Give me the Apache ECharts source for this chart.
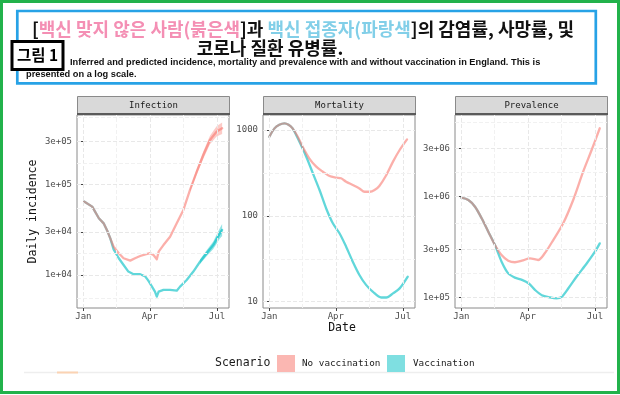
<!DOCTYPE html>
<html><head><meta charset="utf-8">
<script src="https://cdn.jsdelivr.net/npm/echarts@6/dist/echarts.min.js"></script>
<style>html,body{margin:0;padding:0;background:#fff}#c{width:620px;height:395px}</style>
</head><body><div id="c"></div>
<script>
// ---- data ----
const monthTickDays = [0, 90, 181];
const monthTickLabels = ['Jan', 'Apr', 'Jul'];
const minorDays = [45, 135.5];
const panelTitles = ['Infection', 'Mortality', 'Prevalence'];
const scenarioNames = ['No vaccination', 'Vaccination'];

const infTicks = [1e4, 3e4, 1e5, 3e5];
const infTickLabels = ['1e+04', '3e+04', '1e+05', '3e+05'];
const infMinor = [5477, 17321, 54772, 173205, 547723];
const mortTicks = [10, 100, 1000];
const mortTickLabels = ['10', '100', '1000'];
const mortMinor = [31.6, 316];
const prevTicks = [1e5, 3e5, 1e6, 3e6];
const prevTickLabels = ['1e+05', '3e+05', '1e+06', '3e+06'];
const prevMinor = [173205, 547723, 1732051, 5477226];

const infNoVacDays = [1, 12, 21, 27.5, 33, 36.5, 41, 48, 54.5, 63.5, 70, 77, 84, 90.5, 95, 99.5, 102, 108.5, 117.5, 126.5, 135.5, 144.5, 153.5, 162.5, 171.5, 180.5, 188];
const infNoVac = [64700, 56900, 42300, 37200, 30000, 25400, 20500, 17400, 15300, 14400, 15300, 16200, 16900, 17400, 16600, 14900, 18100, 21400, 26500, 37200, 52300, 87000, 138000, 212000, 310000, 384000, 418000];
const infVacDays = [1, 12, 21, 27.5, 33, 36.5, 41, 48, 54.5, 61, 68, 77, 84, 88, 93, 97, 99.5, 102, 108.5, 117.5, 126.5, 131, 140, 149, 158, 167, 176, 185, 188];
const infVac = [64700, 56900, 42300, 37200, 30000, 25400, 19200, 15300, 12900, 10900, 10200, 10200, 9600, 8650, 7430, 6540, 5760, 6540, 6830, 6830, 6700, 7430, 8800, 10900, 14000, 17400, 21400, 28900, 31400];
// uncertainty band at the end of the infection projections
const infNoVacBandDays = [144.5, 153.5, 162.5, 171.5, 180.5, 188];
const infNoVacLow = [83000, 128000, 193000, 278000, 338000, 362000];
const infNoVacHigh = [91000, 148000, 232000, 345000, 440000, 485000];
const infVacBandDays = [158, 167, 176, 185, 188];
const infVacLow = [13200, 16100, 19400, 25300, 27000];
const infVacHigh = [14800, 18700, 23500, 33000, 36500];

const mortNoVacDays = [0, 7, 13.5, 20.5, 26, 31.5, 38.5, 45, 54, 63.5, 72.5, 81.5, 90.5, 97, 104, 113, 122, 129, 136, 142.5, 149, 158.5, 167.5, 176.5, 186.5];
const mortNoVac = [836, 1045, 1153, 1197, 1153, 1045, 836, 640, 468, 374, 327, 291, 279, 274, 250, 229, 209, 191, 191, 200, 223, 299, 428, 585, 778];
const mortVacDays = [0, 7, 13.5, 20.5, 26, 31.5, 38.5, 50, 59, 68, 77, 86, 95, 104, 113, 122, 131, 140, 151.5, 158.5, 167.5, 176.5, 187.5];
const mortVac = [836, 1045, 1153, 1197, 1153, 1045, 800, 489, 313, 200, 122, 82, 62.7, 43.8, 29.3, 20.5, 15.7, 13.1, 11.2, 11.2, 12.5, 14.3, 19.6];

const prevNoVacDays = [0, 9.5, 18.5, 27.5, 36.5, 45.5, 54.5, 63.5, 72.5, 82, 93, 104, 113, 124.5, 138, 151.5, 165, 176.5, 187.5];
const prevNoVac = [977000, 927000, 795000, 610000, 449000, 331000, 263000, 231000, 223000, 231000, 244000, 235000, 274000, 371000, 545000, 927000, 1773000, 2912000, 4790000];
const prevVacDays = [0, 9.5, 18.5, 27.5, 36.5, 45.5, 54.5, 63.5, 72.5, 82, 91, 100, 109, 120, 129, 136, 145, 156, 170, 181, 187.5];
const prevVac = [977000, 927000, 795000, 610000, 449000, 331000, 226000, 173000, 157000, 149000, 138000, 118000, 105000, 100000, 97800, 101000, 123000, 160000, 218000, 284000, 344000];

// ---- layout / styles ----
const MONO = 'DejaVu Sans Mono';
const panels = [
  { left: 77, yMin: 4315, yMax: 586000, ticks: infTicks, labels: infTickLabels, minor: infMinor,
    series: [[infNoVacDays, infNoVac], [infVacDays, infVac]], smooth: false,
    bands: [[infNoVacBandDays, infNoVacLow, infNoVacHigh], [infVacBandDays, infVacLow, infVacHigh]] },
  { left: 263, yMin: 8.45, yMax: 1496, ticks: mortTicks, labels: mortTickLabels, minor: mortMinor,
    series: [[mortNoVacDays, mortNoVac], [mortVacDays, mortVac]], smooth: 0.3, bands: [] },
  { left: 455, yMin: 78300, yMax: 6490000, ticks: prevTicks, labels: prevTickLabels, minor: prevMinor,
    series: [[prevNoVacDays, prevNoVac], [prevVacDays, prevVac]], smooth: 0.3, bands: [] }
];
const GRID_TOP = 115, GRID_H = 193, GRID_W = 152;
const lineColors = ['rgba(248,118,109,0.58)', 'rgba(0,191,196,0.62)'];
const bandColors = ['rgba(248,118,109,0.38)', 'rgba(0,191,196,0.42)'];
const keyColors = ['#fbb7b2', '#7fdfe1'];

function findLabel(v, ticks, labels) {
  for (let i = 0; i < ticks.length; i++) {
    if (Math.abs(Math.log10(v) - Math.log10(ticks[i])) < 1e-4) return labels[i];
  }
  return '';
}
function findMonth(v) {
  for (let i = 0; i < monthTickDays.length; i++) if (Math.abs(v - monthTickDays[i]) < 1e-6) return monthTickLabels[i];
  return '';
}
function zip(a, b) { return a.map((d, i) => [d, b[i]]); }

const grid = [], xAxis = [], yAxis = [], series = [];
panels.forEach((p, i) => {
  grid.push({ left: p.left, top: GRID_TOP, width: GRID_W, height: GRID_H, show: true,
    borderColor: '#8a8a8a', borderWidth: 1, backgroundColor: '#fff' });
  xAxis.push({ type: 'value', gridIndex: i, min: -8.6, max: 197.3,
    axisLine: { show: false }, splitLine: { show: false },
    axisTick: { show: true, length: 3, lineStyle: { color: '#444' }, customValues: monthTickDays },
    axisLabel: { customValues: monthTickDays, formatter: findMonth, fontFamily: MONO, fontSize: 9, color: '#4d4d4d', margin: 4 } });
  yAxis.push({ type: 'log', logBase: 10, gridIndex: i, min: p.yMin, max: p.yMax,
    axisLine: { show: false }, splitLine: { show: false }, minorTick: { show: false },
    axisTick: { show: true, length: 3, lineStyle: { color: '#444' }, customValues: p.ticks },
    axisLabel: { customValues: p.ticks, formatter: v => findLabel(v, p.ticks, p.labels), fontFamily: MONO, fontSize: 9, color: '#4d4d4d', margin: 5 } });
  const ml = [];
  monthTickDays.forEach(d => ml.push({ xAxis: d, lineStyle: { color: '#e8e8e8', width: 1 } }));
  minorDays.forEach(d => ml.push({ xAxis: d, lineStyle: { color: '#f1f1f1', width: 1 } }));
  p.ticks.forEach(v => ml.push({ yAxis: v, lineStyle: { color: '#e8e8e8', width: 1 } }));
  p.minor.forEach(v => ml.push({ yAxis: v, lineStyle: { color: '#f1f1f1', width: 1 } }));
  series.push({ type: 'line', xAxisIndex: i, yAxisIndex: i, data: [], silent: true, z: 1,
    markLine: { silent: true, symbol: ['none', 'none'], animation: false, label: { show: false }, data: ml } });
  p.bands.forEach((b, k) => {
    const [d, lo, hi] = b;
    const rows = d.map((x, j) => [x, lo[j], hi[j]]);
    series.push({ type: 'custom', xAxisIndex: i, yAxisIndex: i, silent: true, z: 2, animation: false,
      data: rows, encode: { x: 0, y: [1, 2] }, clip: true,
      renderItem: function (params, api) {
        if (params.dataIndex !== 0) return null;
        const pts = [];
        rows.forEach(r => pts.push(api.coord([r[0], r[2]])));
        for (let j = rows.length - 1; j >= 0; j--) pts.push(api.coord([rows[j][0], rows[j][1]]));
        return { type: 'polygon', shape: { points: pts }, style: { fill: bandColors[k] } };
      } });
  });
  [1, 0].forEach(k => {
    const [d, v] = p.series[k];
    series.push({ type: 'line', name: scenarioNames[k], xAxisIndex: i, yAxisIndex: i, data: zip(d, v),
      showSymbol: false, symbol: 'none', smooth: p.smooth, silent: true, z: 3 + (1 - k), animation: false,
      lineStyle: { color: lineColors[k], width: 2.3, cap: 'round', join: 'round' } });
  });
});

const graphic = [];
// outer frame and title box
graphic.push({ type: 'rect', shape: { x: 1.5, y: 1.5, width: 617, height: 391 }, style: { fill: null, stroke: '#22b24b', lineWidth: 3 }, z: 100 });
graphic.push({ type: 'rect', shape: { x: 17.3, y: 11, width: 578.5, height: 72.3 }, style: { fill: null, stroke: '#27a2e6', lineWidth: 2.7 }, z: 100 });
const TF = 'Noto Sans CJK KR', TS = 18;
graphic.push({ type: 'text', x: 32, y: 29, z: 101, style: {
  text: '{b|[}{p|백신 맞지 않은 사람(붉은색}{b|]과 }{c|백신 접종자(파랑색}{b|]의 감염률, 사망률, 및}',
  verticalAlign: 'middle', textVerticalAlign: 'middle',
  rich: {
    b: { fill: '#111', fontSize: TS, fontWeight: 'bold', fontFamily: TF },
    p: { fill: '#f48fb4', fontSize: TS, fontWeight: 'bold', fontFamily: TF },
    c: { fill: '#82cfe8', fontSize: TS, fontWeight: 'bold', fontFamily: TF }
  } } });
graphic.push({ type: 'text', x: 270, y: 48.5, z: 101, style: { text: '코로나 질환 유병률.', fill: '#111', fontSize: TS, fontWeight: 'bold', fontFamily: TF,
  align: 'center', textAlign: 'center', verticalAlign: 'middle', textVerticalAlign: 'middle' } });
graphic.push({ type: 'rect', shape: { x: 12, y: 41.5, width: 51, height: 28 }, style: { fill: '#fff', stroke: '#000', lineWidth: 3 }, z: 102 });
graphic.push({ type: 'text', x: 37.5, y: 55.5, z: 103, style: { text: '그림 1', fill: '#000', fontSize: 15.5, fontWeight: 'bold', fontFamily: TF,
  align: 'center', textAlign: 'center', verticalAlign: 'middle', textVerticalAlign: 'middle' } });
graphic.push({ type: 'text', x: 70, y: 62, z: 101, style: { text: 'Inferred and predicted incidence, mortality and prevalence with and without vaccination in England. This is',
  fill: '#111', fontSize: 9.25, fontWeight: 'bold', fontFamily: 'Liberation Sans', verticalAlign: 'middle', textVerticalAlign: 'middle' } });
graphic.push({ type: 'text', x: 26, y: 74, z: 101, style: { text: 'presented on a log scale.',
  fill: '#111', fontSize: 9.25, fontWeight: 'bold', fontFamily: 'Liberation Sans', verticalAlign: 'middle', textVerticalAlign: 'middle' } });
// strips
panels.forEach((p, i) => {
  graphic.push({ type: 'rect', shape: { x: p.left + 0.5, y: 96.5, width: GRID_W, height: 18 }, style: { fill: '#d9d9d9', stroke: '#8a8a8a', lineWidth: 1 }, z: 50 });
  graphic.push({ type: 'line', shape: { x1: p.left, y1: 114, x2: p.left + GRID_W + 1, y2: 114 }, style: { stroke: '#5a5a5a', lineWidth: 2 }, z: 51 });
  graphic.push({ type: 'text', x: p.left + GRID_W / 2 + 0.5, y: 105.5, z: 52, style: { text: panelTitles[i], fill: '#1a1a1a', fontSize: 9, fontFamily: MONO,
    align: 'center', textAlign: 'center', verticalAlign: 'middle', textVerticalAlign: 'middle' } });
});
// axis titles
graphic.push({ type: 'text', x: 33, y: 211.5, rotation: Math.PI / 2, z: 52, style: { text: 'Daily incidence', fill: '#111', fontSize: 11.5, fontFamily: MONO,
  align: 'center', textAlign: 'center', verticalAlign: 'middle', textVerticalAlign: 'middle' } });
graphic.push({ type: 'text', x: 342, y: 328, z: 52, style: { text: 'Date', fill: '#111', fontSize: 11.5, fontFamily: MONO,
  align: 'center', textAlign: 'center', verticalAlign: 'middle', textVerticalAlign: 'middle' } });
// legend
graphic.push({ type: 'line', shape: { x1: 24, y1: 372.5, x2: 614, y2: 372.5 }, style: { stroke: '#eeeeee', lineWidth: 1.5 }, z: 40 });
graphic.push({ type: 'line', shape: { x1: 57, y1: 372.5, x2: 78, y2: 372.5 }, style: { stroke: '#fbd3b3', lineWidth: 2 }, z: 41 });
graphic.push({ type: 'text', x: 215, y: 363.5, z: 52, style: { text: 'Scenario', fill: '#1a1a1a', fontSize: 11.5, fontFamily: MONO, verticalAlign: 'middle', textVerticalAlign: 'middle' } });
const keyX = [277, 387], keyTextX = [302, 413];
scenarioNames.forEach((n, k) => {
  graphic.push({ type: 'rect', shape: { x: keyX[k], y: 355, width: 18, height: 17 }, style: { fill: keyColors[k] }, z: 52 });
  graphic.push({ type: 'text', x: keyTextX[k], y: 363.5, z: 52, style: { text: n, fill: '#1a1a1a', fontSize: 9.3, fontFamily: MONO, verticalAlign: 'middle', textVerticalAlign: 'middle' } });
});

const chart = echarts.init(document.getElementById('c'), null, { renderer: 'canvas' });
chart.setOption({ animation: false, backgroundColor: '#fff', grid, xAxis, yAxis, series, graphic });
</script></body></html>
